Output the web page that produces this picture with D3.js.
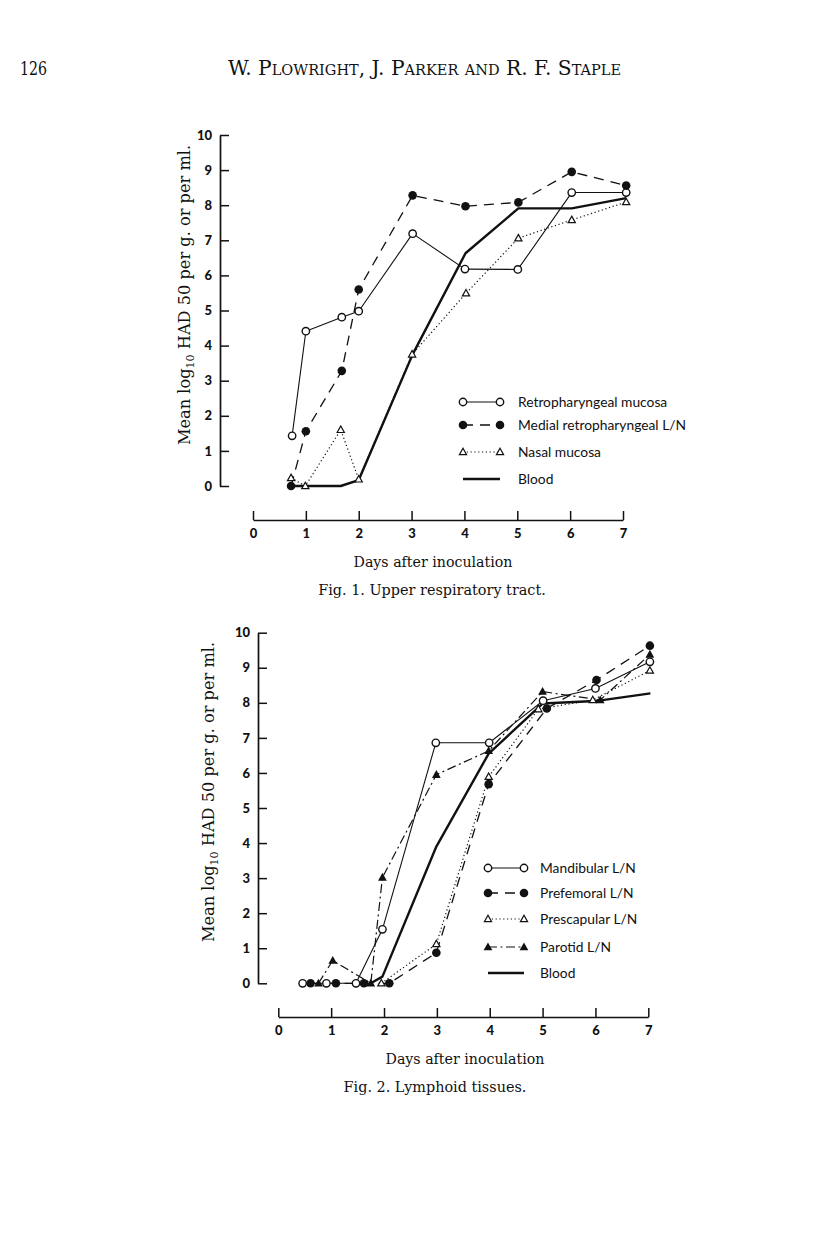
<!DOCTYPE html>
<html><head><meta charset="utf-8">
<script src="https://cdn.jsdelivr.net/npm/d3@7/dist/d3.min.js"></script>
<style>
html,body{margin:0;padding:0;background:#fff;}
svg{display:block;}
.tick text{font-family:Lato,"DejaVu Sans",sans-serif;font-weight:900;font-size:13px;fill:#111;}
.serif{font-family:"DejaVu Serif","Liberation Serif",serif;fill:#111;}
.leg{font-family:Lato,"Open Sans",sans-serif;font-size:13.8px;fill:#111;}
</style>
</head><body>
<script>
// ---------- DATA ----------
const dayTicks = [0,1,2,3,4,5,6,7];
const titerTicks = [0,1,2,3,4,5,6,7,8,9,10];

// Fig. 1 Upper respiratory tract
const f1RetroDays  = [0.74,1.00,1.68,2.00,3.02,4.01,5.01,6.03,7.06];
const f1RetroVals  = [1.43,4.41,4.81,4.98,7.19,6.18,6.17,8.36,8.36];
const f1MedialDays = [0.72,1.00,1.68,2.00,3.02,4.02,5.02,6.03,7.06];
const f1MedialVals = [0.00,1.56,3.28,5.60,8.28,7.97,8.08,8.95,8.56];
const f1NasalDays  = [0.72,0.99,1.66,2.00,3.01,4.03,5.02,6.03,7.06];
const f1NasalVals  = [0.23,0.00,1.60,0.19,3.75,5.49,7.06,7.58,8.09];
const f1BloodDays  = [0.72,1.00,1.66,2.00,3.02,4.02,5.02,6.03,7.06];
const f1BloodVals  = [0.00,0.00,0.00,0.17,3.75,6.63,7.91,7.91,8.20];

// Fig. 2 Lymphoid tissues
const f2MandDays   = [0.46,0.91,1.47,1.97,2.98,3.99,5.01,6.00,7.03];
const f2MandVals   = [0.00,0.00,0.00,1.54,6.86,6.86,8.06,8.41,9.17];
const f2PrefDays   = [0.61,1.09,1.62,2.10,2.99,3.98,5.08,6.02,7.03];
const f2PrefVals   = [0.00,0.00,0.00,0.00,0.87,5.68,7.84,8.65,9.63];
const f2PrescDays  = [1.95,2.99,3.98,4.92,5.95,7.03];
const f2PrescVals  = [0.00,1.12,5.89,7.82,8.08,8.92];
const f2ParDays    = [0.76,1.03,1.75,1.97,2.99,3.98,5.00,6.09,7.03];
const f2ParVals    = [0.00,0.65,0.00,3.02,5.95,6.63,8.32,8.08,9.38];
const f2BloodDays  = [1.75,1.97,2.99,3.98,5.00,6.00,7.04];
const f2BloodVals  = [0.00,0.19,3.90,6.55,7.98,8.05,8.27];

const fig1Legend = ["Retropharyngeal mucosa","Medial retropharyngeal L/N","Nasal mucosa","Blood"];
const fig2Legend = ["Mandibular L/N","Prefemoral L/N","Prescapular L/N","Parotid L/N","Blood"];

// ---------- STYLES ----------
const ST = {
  solid:  {w:1.1, dash:null},
  dashed: {w:1.3, dash:"10,7"},
  dotted: {w:1.2, dash:"1.2,2.6"},
  dashdot:{w:1.2, dash:"9,3.5,2,3.5"},
  blood:  {w:2.4, dash:null}
};

const W=816,H=1245;
const svg=d3.select("body").append("svg").attr("width",W).attr("height",H);
svg.append("rect").attr("width",W).attr("height",H).attr("fill","#fff");

// header
svg.append("text").attr("class","serif").attr("x",20).attr("y",75)
  .style("font-size","19px").attr("textLength",27).attr("lengthAdjust","spacingAndGlyphs").text("126");
svg.append("text").attr("class","serif").attr("x",228).attr("y",75)
  .style("font-size","19.5px").style("font-variant","small-caps")
  .attr("textLength",393).attr("lengthAdjust","spacingAndGlyphs")
  .text("W. Plowright, J. Parker and R. F. Staple");

function marker(g, type, x, y){
  if(type==="oc"){
    g.append("circle").attr("cx",x).attr("cy",y).attr("r",3.7)
      .attr("fill","#fff").attr("stroke","#111").attr("stroke-width",1.4);
  } else if(type==="fc"){
    g.append("circle").attr("cx",x).attr("cy",y).attr("r",4.3).attr("fill","#111");
  } else if(type==="ot"){
    const s=3.8;
    g.append("path").attr("d",`M${x},${y-s}L${x+s*0.95},${y+s*0.7}L${x-s*0.95},${y+s*0.7}Z`)
      .attr("fill","#fff").attr("stroke","#111").attr("stroke-width",1.2);
  } else if(type==="ft"){
    const s=4.6;
    g.append("path").attr("d",`M${x},${y-s}L${x+s*0.95},${y+s*0.7}L${x-s*0.95},${y+s*0.7}Z`)
      .attr("fill","#111");
  }
}

function drawFig(cfg){
  const g=svg.append("g");
  const x=d3.scaleLinear().domain([0,7]).range(cfg.xr);
  const y=d3.scaleLinear().domain([0,10]).range(cfg.yr);

  // y axis (ticks pointing inward)
  const ya=g.append("g").attr("transform",`translate(${cfg.yAxisX},0)`)
    .call(d3.axisLeft(y).tickValues(titerTicks).tickFormat(d3.format("d"))
      .tickSizeInner(-9).tickSizeOuter(0).tickPadding(8));
  ya.select(".domain").attr("stroke","#111").attr("stroke-width",1.7);
  ya.selectAll(".tick line").attr("stroke","#111").attr("stroke-width",1.5);

  // x axis (separate, ticks pointing up)
  const xa=g.append("g").attr("transform",`translate(0,${cfg.xAxisY})`)
    .call(d3.axisBottom(x).tickValues(dayTicks).tickFormat(d3.format("d"))
      .tickSizeInner(-9).tickSizeOuter(0).tickPadding(9));
  xa.select(".domain").attr("stroke","#111").attr("stroke-width",1.7);
  xa.selectAll(".tick line").attr("stroke","#111").attr("stroke-width",1.5);

  // y title
  const yt=g.append("text").attr("class","serif")
    .attr("transform",`translate(${cfg.yTitleX},${cfg.yTitleY}) rotate(-90)`)
    .attr("text-anchor","middle").style("font-size","16.2px");
  yt.append("tspan").text("Mean log");
  yt.append("tspan").attr("dy",4).style("font-size","11px").text("10");
  yt.append("tspan").attr("dy",-4).text(" HAD 50 per g. or per ml.");

  // x title and caption
  g.append("text").attr("class","serif").attr("x",cfg.xTitleX).attr("y",cfg.xAxisY+47)
    .attr("text-anchor","middle").style("font-size","14.2px").text("Days after inoculation");
  g.append("text").attr("class","serif").attr("x",cfg.capX).attr("y",cfg.xAxisY+75)
    .attr("text-anchor","middle").style("font-size","14.4px").text(cfg.caption);

  const line=d3.line().x(d=>x(d[0])).y(d=>y(d[1]));
  cfg.series.forEach(s=>{
    const pts=s.days.map((d,i)=>[d,s.vals[i]]);
    const st=ST[s.style];
    g.append("path").datum(pts).attr("d",line).attr("fill","none")
      .attr("stroke","#111").attr("stroke-width",st.w)
      .attr("stroke-dasharray",st.dash).attr("stroke-linejoin","round");
  });
  cfg.series.forEach(s=>{
    if(!s.marker) return;
    s.days.forEach((d,i)=>marker(g,s.marker,x(d),y(s.vals[i])));
  });

  // legend
  cfg.series.forEach((s,i)=>{
    const ly=cfg.legRows[i];
    const st=ST[s.style];
    g.append("line").attr("x1",cfg.legX1).attr("x2",cfg.legX2).attr("y1",ly).attr("y2",ly)
      .attr("stroke","#111").attr("stroke-width",st.w).attr("stroke-dasharray",st.dash);
    if(s.marker){ marker(g,s.marker,cfg.legX1,ly); marker(g,s.marker,cfg.legX2,ly); }
    g.append("text").attr("class","leg").attr("x",cfg.legTX).attr("y",ly+4.8).text(s.name);
  });
}

drawFig({
  xr:[253,623], yr:[486,135], yAxisX:220, xAxisY:520,
  yTitleX:190, yTitleY:295, xTitleX:433, capX:432,
  caption:"Fig. 1. Upper respiratory tract.",
  legX1:463, legX2:500, legTX:518, legRows:[402,425,452,479],
  series:[
    {name:fig1Legend[0], days:f1RetroDays, vals:f1RetroVals, style:"solid", marker:"oc"},
    {name:fig1Legend[1], days:f1MedialDays, vals:f1MedialVals, style:"dashed", marker:"fc"},
    {name:fig1Legend[2], days:f1NasalDays, vals:f1NasalVals, style:"dotted", marker:"ot"},
    {name:fig1Legend[3], days:f1BloodDays, vals:f1BloodVals, style:"blood", marker:null}
  ]
});

drawFig({
  xr:[278.3,648.3], yr:[983.3,632.7], yAxisX:258, xAxisY:1017,
  yTitleX:214, yTitleY:792, xTitleX:465, capX:435,
  caption:"Fig. 2. Lymphoid tissues.",
  legX1:488, legX2:524, legTX:540, legRows:[868,893,919,947,973],
  series:[
    {name:fig2Legend[0], days:f2MandDays, vals:f2MandVals, style:"solid", marker:"oc"},
    {name:fig2Legend[1], days:f2PrefDays, vals:f2PrefVals, style:"dashed", marker:"fc"},
    {name:fig2Legend[2], days:f2PrescDays, vals:f2PrescVals, style:"dotted", marker:"ot"},
    {name:fig2Legend[3], days:f2ParDays, vals:f2ParVals, style:"dashdot", marker:"ft"},
    {name:fig2Legend[4], days:f2BloodDays, vals:f2BloodVals, style:"blood", marker:null}
  ]
});
</script>
</body></html>
